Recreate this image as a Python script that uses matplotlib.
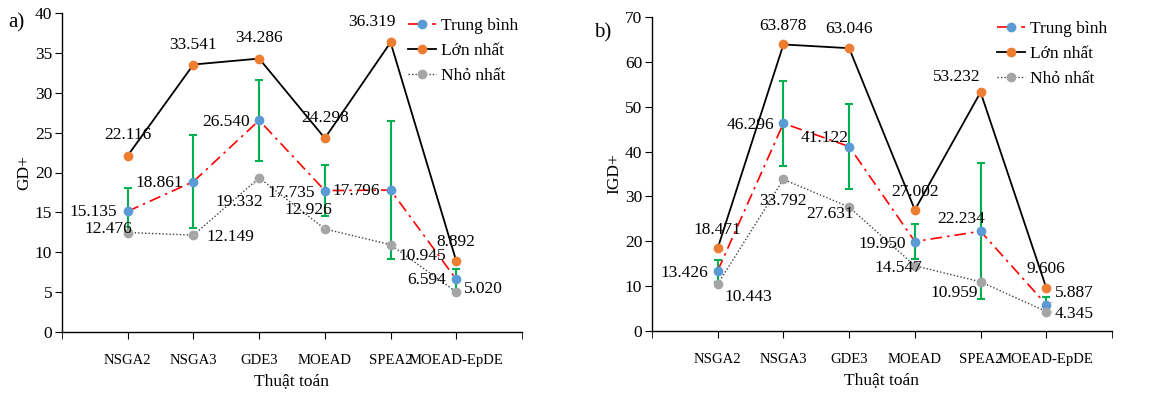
import matplotlib
matplotlib.use("Agg")
import matplotlib.pyplot as plt
import numpy as np

plt.rcParams['font.family'] = ['Liberation Serif', 'DejaVu Serif']

categories = ["NSGA2", "NSGA3", "GDE3", "MOEAD", "SPEA2", "MOEAD-EpDE"]

# Panel a) GD+
gd_mean = [15.135, 18.861, 26.540, 17.735, 17.796, 6.594]
gd_max = [22.116, 33.541, 34.286, 24.298, 36.319, 8.892]
gd_min = [12.476, 12.149, 19.332, 12.926, 10.945, 5.020]
gd_err = [2.9, 5.8, 5.05, 3.2, 8.6, 1.3]

# Panel b) IGD+
igd_mean = [13.426, 46.296, 41.122, 19.950, 22.234, 5.887]
igd_max = [18.471, 63.878, 63.046, 27.002, 53.232, 9.606]
igd_min = [10.443, 33.792, 27.631, 14.547, 10.959, 4.345]
igd_err = [2.5, 9.5, 9.5, 4.0, 15.2, 1.8]

legend_labels = ["Trung bình", "Lớn nhất", "Nhỏ nhất"]

BLUE = '#5B9BD5'
ORANGE = '#ED7D31'
GRAY = '#A5A5A5'
GREEN = '#00B050'

# label offsets in pixels (dx, dy), positive dy = up
a_off = {
    'max': [(0, 21), (0, 20), (0, 21), (0, 20), (-19, 20), (0, 19)],
    'mean': [(-34, -1), (-34, -1), (-33, -2), (-34, -2), (-34, -1), (-30, -1)],
    'min': [(-19, 4), (37, -2), (-20, -24), (-17, 19), (32, -11), (27, 3)],
}
a_lead = {'max': [4], 'mean': [], 'min': [1, 2, 3, 4, 5]}
b_off = {
    'max': [(0, 18), (0, 18), (0, 19), (0, 18), (-24, 15), (0, 19)],
    'mean': [(-33, -2), (-33, -2), (-25, 9), (-33, -2), (-19, 12), (28, 12)],
    'min': [(31, -13), (0, -22), (-19, -7), (-17, -2), (-26, -11), (28, -2)],
}
b_lead = {'max': [], 'mean': [5], 'min': [5]}

fig = plt.figure(figsize=(11.69, 3.97), dpi=100)


def W(x):
    return x / 1169.0


def H(y):
    return 1 - y / 397.0


def draw(ax, mean, mx, mn, err, ymax, ylabel, offs, leads):
    x = np.arange(1, len(categories) + 1)
    l_mean, = ax.plot(x, mean, color='red', lw=1.2, linestyle=(0, (7, 3, 1.5, 3)),
                      marker='o', ms=6, mfc=BLUE, mec=BLUE, zorder=4)
    ax.errorbar(x, mean, yerr=err, fmt='none', ecolor=GREEN, elinewidth=1.5,
                capsize=3, capthick=1.5, zorder=3)
    l_max, = ax.plot(x, mx, color='black', lw=1.3, marker='o', ms=6,
                     mfc=ORANGE, mec=ORANGE, zorder=5)
    l_min, = ax.plot(x, mn, color='#404040', lw=1.0, linestyle=(0, (1, 1.5)),
                     marker='o', ms=6, mfc=GRAY, mec=GRAY, zorder=4)
    for key, vals in (('max', mx), ('mean', mean), ('min', mn)):
        for i, v in enumerate(vals):
            dx, dy = offs[key][i]
            kw = {}
            if i in leads[key]:
                kw['arrowprops'] = dict(arrowstyle='-', color='#BBBBBB', lw=0.8,
                                        shrinkA=6, shrinkB=3)
            ax.annotate(f"{v:.3f}", (x[i], v), xytext=(dx, dy),
                        textcoords='offset pixels', ha='center', va='center',
                        fontsize=12.5, color='black', zorder=6, **kw)
    ax.set_xlim(0, 7)
    ax.set_ylim(0, ymax)
    ax.set_xticks(x)
    ax.set_xticklabels(categories, fontsize=10.6)
    ax.set_xticks(np.arange(0, 8), minor=True)
    ax.tick_params(axis='x', which='both', length=5, direction='out', pad=11)
    ax.tick_params(axis='y', length=5, direction='out', labelsize=12.5, pad=2)
    ax.spines['top'].set_visible(False)
    ax.spines['right'].set_visible(False)
    for s in ('left', 'bottom'):
        ax.spines[s].set_linewidth(1.0)
    ax.set_xlabel("Thuật toán", fontsize=12.5, labelpad=4)
    ax.set_ylabel(ylabel, fontsize=12.5, labelpad=2)
    return [l_mean, l_max, l_min]


ax1 = fig.add_axes([W(62), H(332), W(522) - W(62), H(13) - H(332)])
h1 = draw(ax1, gd_mean, gd_max, gd_min, gd_err, 40, "GD+", a_off, a_lead)
ax1.set_yticks(np.arange(0, 41, 5))
ax1.legend(h1, legend_labels, loc='upper left', bbox_to_anchor=(W(408), H(18)),
           bbox_transform=fig.transFigure, frameon=False, fontsize=12.5,
           handlelength=1.6, handletextpad=0.3, labelspacing=0.5, borderaxespad=0,
           borderpad=0)

ax2 = fig.add_axes([W(652), H(331), W(1112) - W(652), H(17) - H(331)])
h2 = draw(ax2, igd_mean, igd_max, igd_min, igd_err, 70, "IGD+", b_off, b_lead)
ax2.set_yticks(np.arange(0, 71, 10))
ax2.legend(h2, legend_labels, loc='upper left', bbox_to_anchor=(W(997), H(21)),
           bbox_transform=fig.transFigure, frameon=False, fontsize=12.5,
           handlelength=1.6, handletextpad=0.3, labelspacing=0.5, borderaxespad=0,
           borderpad=0)

fig.text(W(16), H(23), "a)", fontsize=15, ha='center', va='center')
fig.text(W(603), H(33), "b)", fontsize=15, ha='center', va='center')

fig.savefig("out.png", dpi=100)
